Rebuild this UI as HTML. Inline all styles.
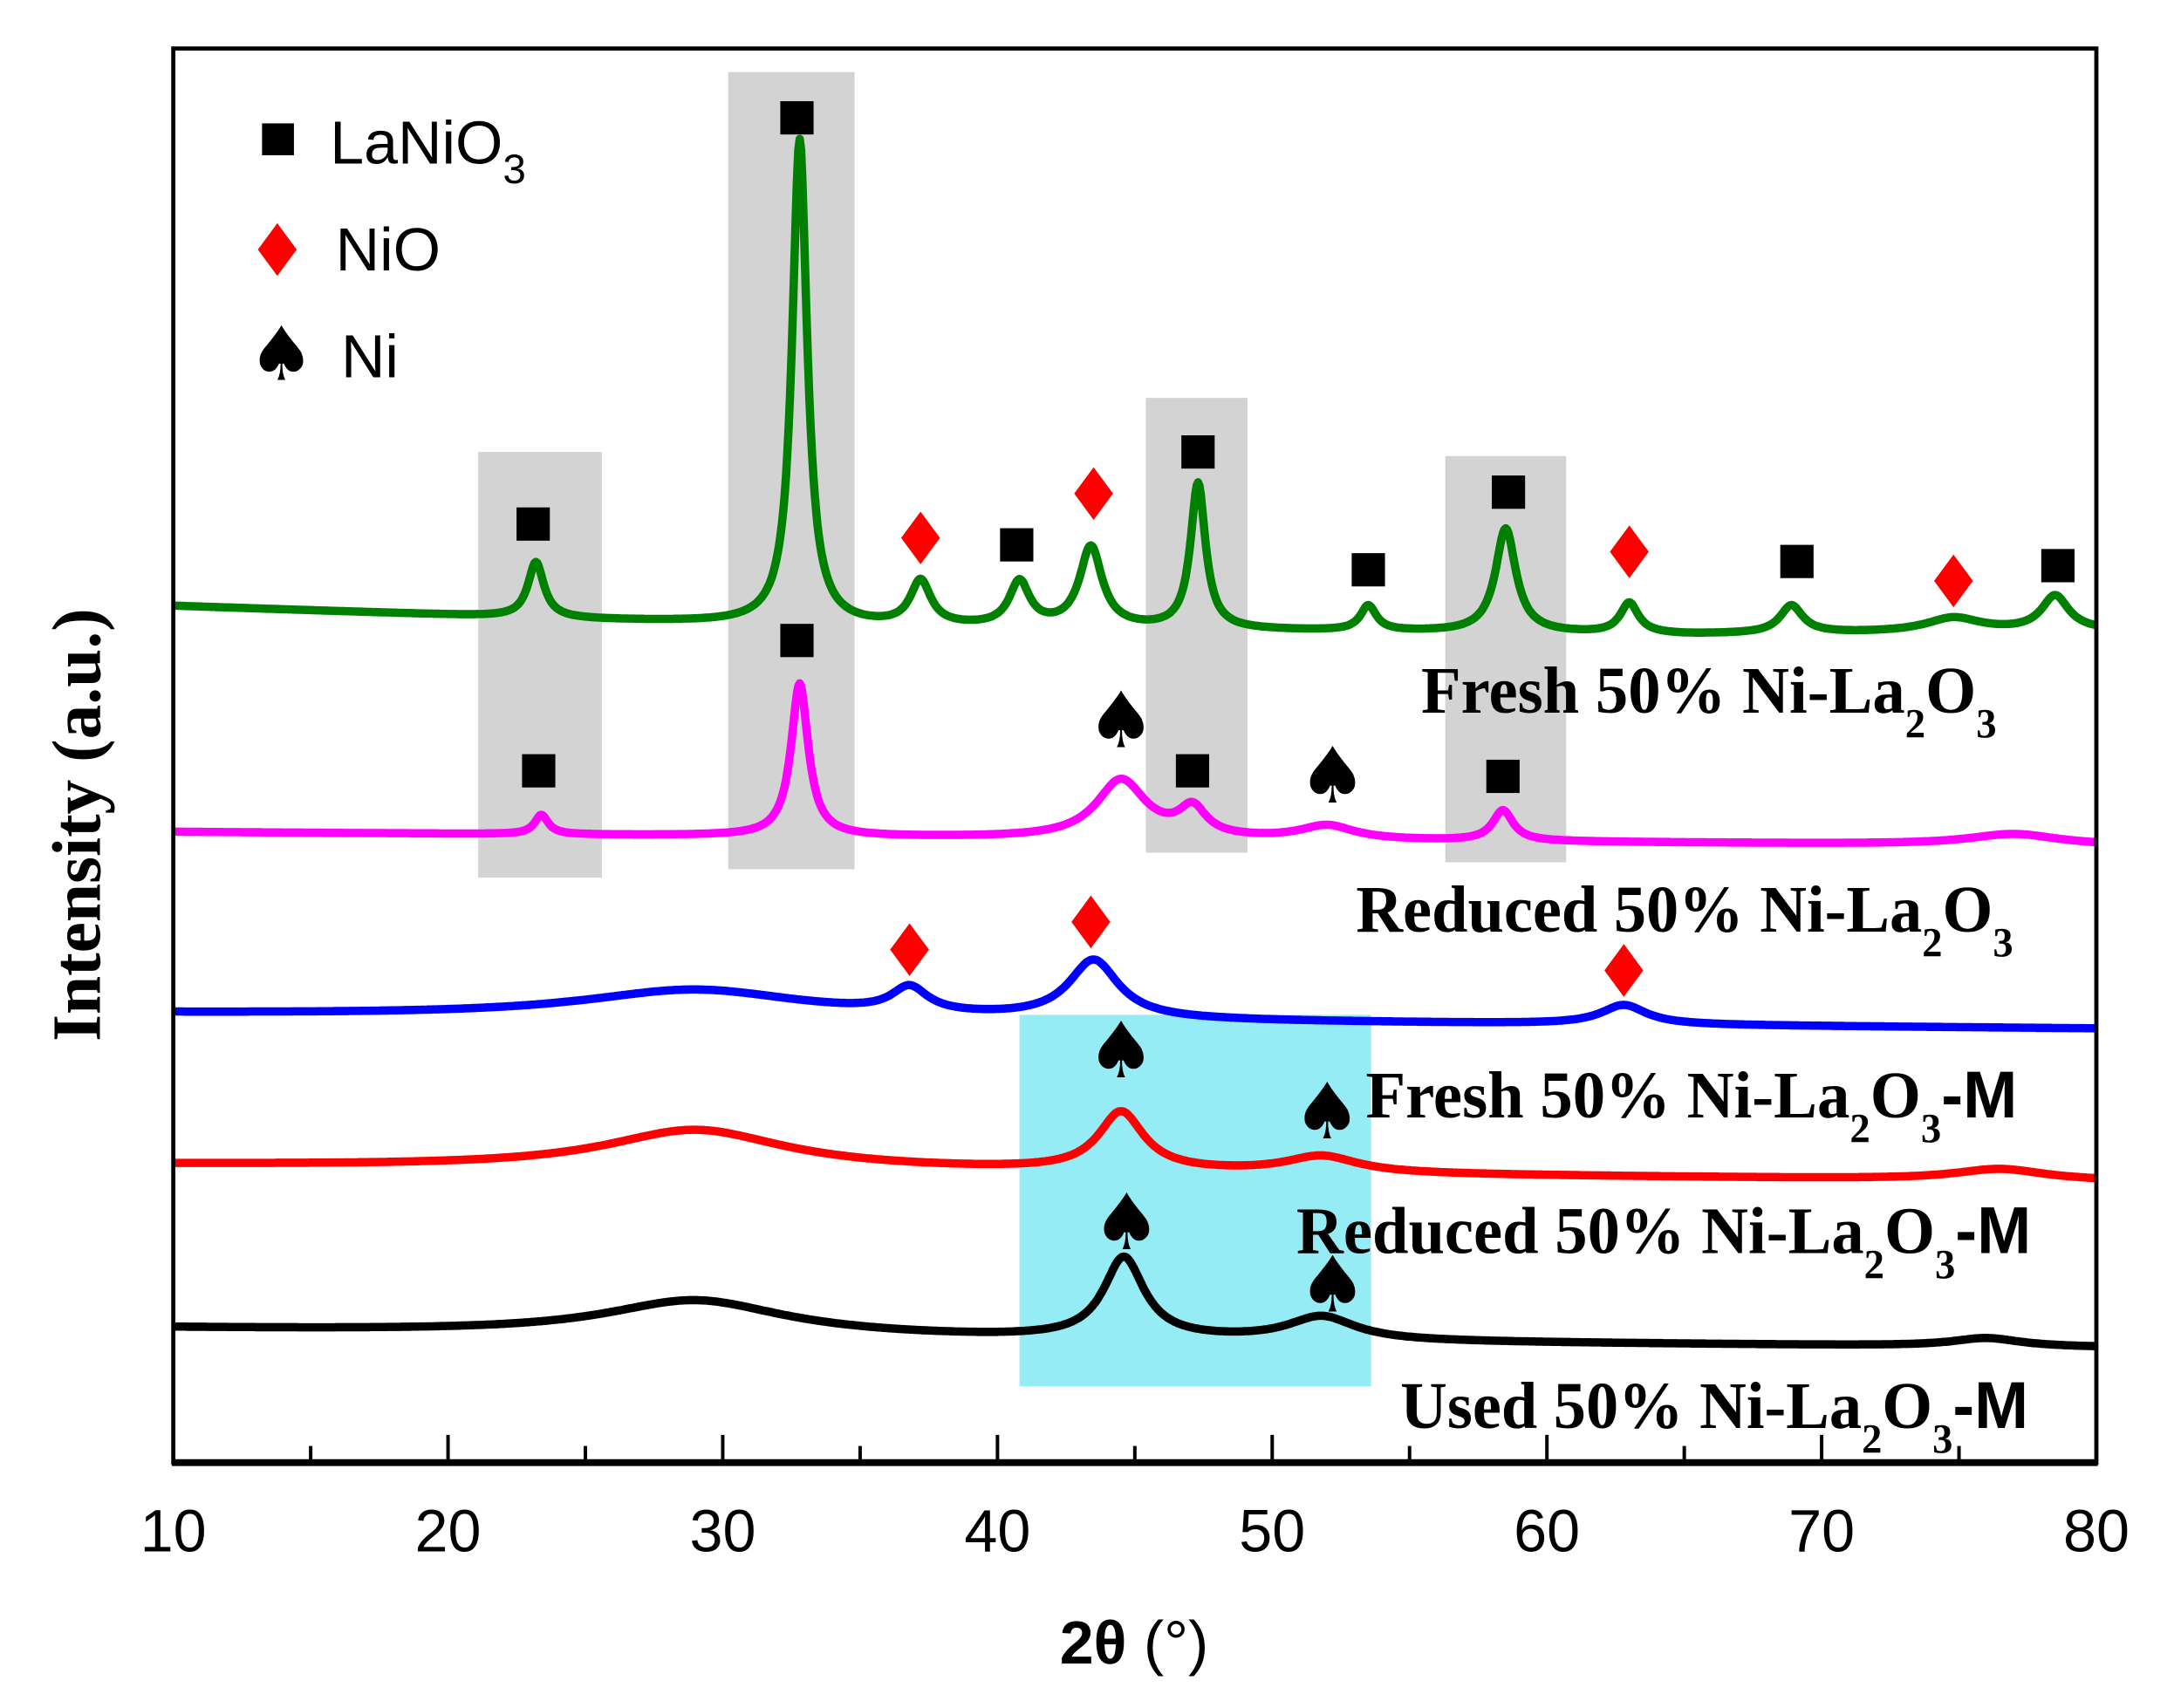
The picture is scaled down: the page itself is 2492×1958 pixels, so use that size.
<!DOCTYPE html>
<html><head><meta charset="utf-8"><style>
html,body{margin:0;padding:0;background:#fff;}
svg{display:block;}
.tk{font-family:"Liberation Sans",sans-serif;font-size:43px;}
.lab{font-family:"Liberation Serif",serif;font-weight:bold;font-size:48px;}
.sub{font-size:30px;}
</style></head><body>
<svg id="chart" width="2492" height="1958" viewBox="0 0 1568 1232" preserveAspectRatio="none" xmlns="http://www.w3.org/2000/svg">
<g id="bg"></g>
<g id="series"></g>
<g id="markers"></g>
<g id="axes"></g>
<g>
 <rect x="189" y="89" width="23" height="23" fill="#000"/>
 <text x="238" y="118" font-family="Liberation Sans,sans-serif" font-size="44">LaNiO<tspan class="sub" dy="14" font-size="28">3</tspan></text>
 <path d="M200,161 L214,180 L200,199 L186,180Z" fill="#f00"/>
 <text x="242" y="195" font-family="Liberation Sans,sans-serif" font-size="44">NiO</text>
 <text x="203" y="274" text-anchor="middle" font-size="54" font-family="DejaVu Sans,sans-serif">♠</text>
 <text x="246" y="272" font-family="Liberation Sans,sans-serif" font-size="44">Ni</text>
</g>
<g>
 <text class="lab" x="1025" y="514" textLength="415" lengthAdjust="spacingAndGlyphs">Fresh 50% Ni-La<tspan class="sub" dy="18">2</tspan><tspan dy="-18">O</tspan><tspan class="sub" dy="18">3</tspan></text>
 <text class="lab" x="978" y="672" textLength="474" lengthAdjust="spacingAndGlyphs">Reduced 50% Ni-La<tspan class="sub" dy="18">2</tspan><tspan dy="-18">O</tspan><tspan class="sub" dy="18">3</tspan></text>
 <text class="lab" x="985" y="806" textLength="470" lengthAdjust="spacingAndGlyphs">Fresh 50% Ni-La<tspan class="sub" dy="18">2</tspan><tspan dy="-18">O</tspan><tspan class="sub" dy="18">3</tspan><tspan dy="-18" font-family="Liberation Sans,sans-serif">-M</tspan></text>
 <text class="lab" x="935" y="904" textLength="530" lengthAdjust="spacingAndGlyphs">Reduced 50% Ni-La<tspan class="sub" dy="18">2</tspan><tspan dy="-18">O</tspan><tspan class="sub" dy="18">3</tspan><tspan dy="-18" font-family="Liberation Sans,sans-serif">-M</tspan></text>
 <text class="lab" x="1010" y="1030" textLength="453" lengthAdjust="spacingAndGlyphs">Used 50% Ni-La<tspan class="sub" dy="18">2</tspan><tspan dy="-18">O</tspan><tspan class="sub" dy="18">3</tspan><tspan dy="-18" font-family="Liberation Sans,sans-serif">-M</tspan></text>
</g>
<text transform="translate(72,595) rotate(-90)" text-anchor="middle" font-family="Liberation Serif,serif" font-weight="bold" font-size="50">Intensity (a.u.)</text>
<text x="818" y="1200" text-anchor="middle" font-family="Liberation Sans,sans-serif" font-size="44"><tspan font-weight="bold">2θ</tspan> (°)</text>
</svg>
<script>
const NS="http://www.w3.org/2000/svg";
const xTicks=[10,20,30,40,50,60,70,80];
const minorTicks=[15,25,35,45,55,65,75];
// highlight boxes [x0,x1 (deg), y0,y1 (px)]
const greyBoxes=[[21.1,25.6,326,633],[30.2,34.8,52,627],[45.4,49.1,287,615],[56.3,60.7,329,622]];
const cyanBox=[40.8,53.6,732,1000];
// series: baseline [deg, px]; peaks [pos, height, halfwidth]
const names=["fresh","reduced","fresh-m","reduced-m","used-m"];
const colors=["#008000","#ff00ff","#0000ff","#ff0000","#000000"];
const baseFresh=[[10,437],[25,447],[35,452],[50,455],[65,458],[80,455]];
const peaksFresh=[[23.2,40,0.35],[32.8,350,0.33],[37.2,32,0.45],[40.8,32,0.45],[43.4,58,0.5],[47.3,105,0.33],[53.5,18,0.35],[58.5,75,0.45],[63,22,0.4],[68.9,20,0.5],[74.8,10,1.2],[78.5,25,0.6]];
const baseReduced=[[10,600],[30,603],[50,606],[80,610]];
const peaksReduced=[[23.4,14,0.3],[32.8,110,0.38],[44.5,42,1.1],[47.1,20,0.6],[52,10,1.2],[58.4,22,0.45],[77,8,2]];
const baseFreshM=[[10,731],[40,736],[80,742]];
const peaksFreshM=[[29,20,5],[36.8,18,0.8],[43.5,42,1.1],[62.8,14,1]];
const baseRedM=[[10,840],[40,845],[80,852]];
const peaksRedM=[[29,28,4],[44.5,42,1],[51.8,12,1.6],[76.5,8,2]];
const baseUsedM=[[10,958],[40,966],[80,972]];
const peaksUsedM=[[29,25,4],[44.6,58,0.9],[51.8,17,1.5],[76,6,1.5]];
const bases=[baseFresh,baseReduced,baseFreshM,baseRedM,baseUsedM];
const peaks=[peaksFresh,peaksReduced,peaksFreshM,peaksRedM,peaksUsedM];
// markers: [deg, px]
const squares=[[23.1,378],[32.7,85],[40.7,393],[47.3,326],[53.5,411],[58.6,355],[69.1,405],[78.6,408],[32.7,462],[23.3,556],[47.1,556],[58.4,560]];
const diamonds=[[37.2,388],[43.5,356],[63.0,398],[74.8,419],[36.8,685],[43.4,665],[62.8,700]];
const spades=[[44.5,520],[52.2,560],[44.5,758],[52.0,802],[44.7,882],[52.2,927]];

const X0=125,X1=1512,Y0=35,Y1=1055;
const xs=d=>X0+(d-10)*(X1-X0)/70;
function mk(tag,attrs,parent){const e=document.createElementNS(NS,tag);for(const k in attrs)e.setAttribute(k,attrs[k]);parent.appendChild(e);return e;}
const bg=document.getElementById('bg');
greyBoxes.forEach(b=>{const r=mk('rect',{x:xs(b[0]),y:b[2],width:xs(b[1])-xs(b[0]),height:b[3]-b[2],fill:'#d3d3d3'},bg);

});
{const r=mk('rect',{x:xs(cyanBox[0]),y:cyanBox[2],width:xs(cyanBox[1])-xs(cyanBox[0]),height:cyanBox[3]-cyanBox[2],fill:'#96ecf4'},bg);

}
function baseAt(b,d){for(let i=0;i<b.length-1;i++){if(d<=b[i+1][0]){const t=(d-b[i][0])/(b[i+1][0]-b[i][0]);return b[i][1]+t*(b[i+1][1]-b[i][1]);}}return b[b.length-1][1];}
const sg=document.getElementById('series');
names.forEach((n,si)=>{let pts=[];for(let d=10;d<=80.0001;d+=0.05){let y=baseAt(bases[si],d);peaks[si].forEach(p=>{const u=(d-p[0])/p[2];y-=p[1]/(1+u*u);});pts.push(xs(d).toFixed(1)+','+y.toFixed(1));}
const pl=mk('polyline',{points:pts.join(' '),fill:'none',stroke:colors[si],'stroke-width':6,'stroke-linejoin':'round'},sg);

});
const mg=document.getElementById('markers');
squares.forEach(s=>{const r=mk('rect',{x:xs(s[0])-12,y:s[1]-12,width:24,height:24,fill:'#000'},mg);

});
diamonds.forEach(s=>{const x=xs(s[0]),y=s[1];const p=mk('path',{d:`M${x},${y-19} L${x+14},${y} L${x},${y+19} L${x-14},${y}Z`,fill:'#f00'},mg);

});
spades.forEach(s=>{const t=mk('text',{x:xs(s[0]),y:s[1]+19,'text-anchor':'middle','font-size':56,'font-family':'DejaVu Sans,sans-serif'},mg);t.textContent='♠';

});
const ax=document.getElementById('axes');
{const r=mk('rect',{x:X0,y:Y0,width:X1-X0,height:Y1-Y0,fill:'none',stroke:'#000','stroke-width':3},ax);

}
{const l=mk('line',{x1:X0-1,x2:X1+1,y1:Y1,y2:Y1,stroke:'#000','stroke-width':5},ax);

}
xTicks.forEach(v=>{const l=mk('line',{x1:xs(v),x2:xs(v),y1:Y1,y2:Y1-20,stroke:'#000','stroke-width':2.5},ax);


const t=mk('text',{x:xs(v),y:1119,'text-anchor':'middle',class:'tk'},ax);t.textContent=v;

});
minorTicks.forEach(v=>{const l=mk('line',{x1:xs(v),x2:xs(v),y1:Y1,y2:Y1-12,stroke:'#000','stroke-width':2.5},ax);

});
</script>
</body></html>
